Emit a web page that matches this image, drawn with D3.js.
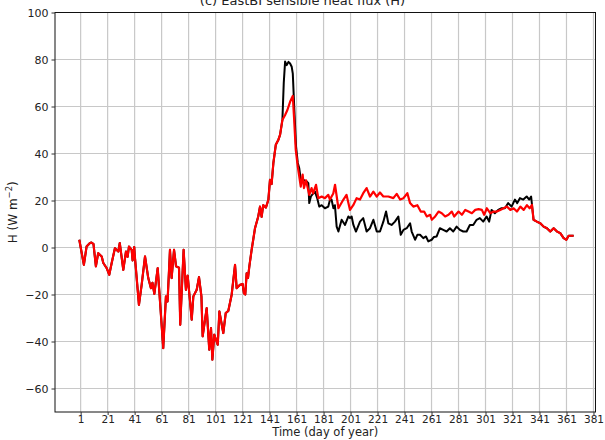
<!DOCTYPE html>
<html>
<head>
<meta charset="utf-8">
<script src="https://cdn.jsdelivr.net/npm/d3@7"></script>
<style>
  body { margin: 0; background: #fff; }
  text { font-family: "DejaVu Sans", sans-serif; fill: #222; }
</style>
</head>
<body>
<div id="chart"></div>
<script>
// shared part (both runs identical until ~day 150, black hidden under red)
const earlyDays = [0, 3.4, 5.4, 7.9, 9, 10.5, 12.3, 14, 16.6, 17.8, 20.3, 22.2, 24, 26.4, 28.9, 30, 32.6, 34.6, 35.8, 36.8, 38.8, 39.5, 40.7, 41,
  44.2, 46.2, 48.7, 51.1, 53.1, 54.2, 55.6, 58.1, 62.2, 64.2, 65.4, 67.2, 68.4, 70.2, 71.7, 73.9, 74.8, 77.3, 79, 80.3, 83.3, 84.5, 87, 88.7, 90.5,
  91.4, 94.4, 96.3, 97.6, 98.6, 100, 102.6, 103.8, 106.7, 108.5, 110.4, 112.9, 115.4, 116.6, 119, 121, 122, 123, 124, 125, 126, 127.7,
  130.2, 132.6, 133.9, 135.1, 136.3, 138.3, 140.1, 141.3, 142.5, 143.8, 145.6, 147.5, 148.8, 150.5];
const earlyVals = [3.3, -7.4, 0.4, 1.9, 2.1, 1.5, -8, -2.4, -3.8, -6.6, -8.8, -11.6, -6.6, -0.3, -1.7, 1.9, -9.5, -1.7, -4, 0.4, -1, -5.5, 0.2, -2.6,
  -24.4, -15.9, -3.8, -13, -17.3, -15, -19.7, -8.8, -42.8, -20.8, -23, -1, -13, -1, -8, -8.6, -32.9, -1, -18, -12, -30.7, -20.8, -18, -12.6, -20.8,
  -37.8, -25.8, -43.5, -34.3, -47.7, -37.1, -41.4, -27.2, -36.4, -27.9, -27, -20.1, -7.4, -17.3, -15.9, -15.5, -19.5, -20, -11, -13, -8, -1,
  8.2, 13.2, 17.4, 13, 18, 17, 20.3, 28.8, 27, 35.9, 43.7, 45.8, 48, 54.3];

// red run after the peak
const redDays = [152.5, 154.2, 156.2, 157.4, 158.2, 159.1, 160.4, 161.9, 163, 164.1, 165.5, 166.5, 168, 170.4, 172.1, 173.3, 175.4, 177.1, 179.6,
  182, 184.5, 185.7, 188.2, 189.5, 192, 195.6, 198, 200.6, 203, 205.5, 208, 210.4, 212.9, 215.4, 217.9, 220.4, 222.8, 225.3, 229, 232.7, 235.2,
  237.7, 240.2, 243.1, 245.1, 247.5, 250.5, 253, 255.5, 257.5, 260, 261.2, 263.7, 266.2, 268.6, 271.1, 273.6, 276, 277.8, 281, 283.5, 286, 288.4,
  290.9, 293.4, 295.9, 298.3, 300, 302, 304.5, 307, 309.4, 311.9, 314.4, 316.9, 319.4, 321.8, 324.3, 326.8, 329.3, 331.7, 333.7, 335.4];
const redVals = [56.4, 58.5, 62, 63.5, 64.5, 55.7, 41.5, 34.4, 30.2, 25.9, 31, 25.3, 28.6, 22.4, 25.3, 23, 26.7, 21, 21.7,
  21, 22.4, 20.4, 23, 26.7, 16.7, 20.3, 22.4, 16, 18, 21, 20.4, 23.1, 25.3, 21.7, 23.8, 21.7, 23.4, 21.7, 21.7, 21, 22.8,
  20.4, 21, 23.1, 18.9, 17.4, 18, 15.3, 15.3, 13.2, 13.9, 11.8, 13.2, 15.3, 14.6, 13.2, 13.9, 15.3, 13.2, 15.3, 13.9, 16, 15.3,
  14.6, 16, 16.3, 16, 13.9, 16.7, 14.6, 15.3, 15.3, 16, 16.7, 17.4, 16, 16.7, 15.3, 17.4, 16, 18, 16.7, 18.1];

// black run after the peak
const blackDays = [151.5, 152.5, 153.7, 155, 156.2, 157.4, 158.2, 159.4, 160.6, 161.9, 163, 164.1, 166, 168.5, 169.7, 170.4, 171.6, 173.3, 174.6,
  176.3, 177.8, 179.6, 182, 184.5, 185.8, 186.9, 188.3, 189.4, 190.7, 192, 194.4, 196.9, 199.4, 200.6, 201.8, 203.1, 205, 208, 210.4, 212.9,
  215.4, 217.9, 220.4, 222.8, 225.3, 227.3, 229, 231.4, 233.9, 236.4, 238.2, 240.2, 242.6, 245.1, 246.3, 248.8, 250.5, 252.5, 254.9, 256.9,
  258.6, 261.1, 262.8, 264.8, 267.2, 269.7, 272.2, 274.6, 277.1, 279.6, 282, 284.5, 287, 289.4, 291.9, 294.4, 296.8, 299.3, 301.8, 303.7,
  305.5, 307.9, 310.4, 312.9, 315.4, 317.8, 320.3, 322.8, 324.5, 326.5, 329, 331.5, 333.4, 334.8];
const blackVals = [70, 79.1, 77.6, 79, 78.3, 76.9, 74, 58, 43, 36, 33.7, 28.8, 28.8, 28.1, 27.4, 18.9, 21.7, 23, 23.8,
  21, 17.4, 18, 16.7, 17.4, 20.4, 20.4, 16.7, 18, 8.9, 6.8, 11.8, 9.6, 13.2, 12.5, 13.2, 9.6, 6.8, 11, 12.5, 6.8,
  8.2, 11.8, 6.8, 6.8, 11, 15.3, 10.3, 9.6, 11, 13.2, 5.4, 7.5, 8.2, 10.3, 6.8, 3.3, 5.4, 5.4, 4, 4.7,
  2.6, 3.3, 4.5, 4.7, 8.2, 7.5, 6.8, 8.2, 6.8, 8.9, 7.5, 6.8, 6.8, 9.6, 9.6, 11.8, 12.5, 11, 13.2, 11,
  16, 14.6, 16, 16.7, 16.7, 18.9, 17.4, 20.4, 18.9, 21, 20.4, 21.7, 20.4, 21.7];

// shared tail (runs merge again after ~day 336)
const tailDays = [336.6, 339.1, 341.6, 344, 346.5, 349, 351.5, 354, 356.4, 358.9, 360.9, 362.6, 366.3];
const tailVals = [11.8, 11, 10.3, 8.9, 8.2, 6.8, 8.2, 6.8, 6.1, 4, 3.3, 5, 5];

const xTicks = d3.range(1, 382, 20);
const yTicks = d3.range(-60, 101, 20);

const toPts = (days, vals) => days.map((d, i) => ({ day: d, val: vals[i] }));
const early = toPts(earlyDays, earlyVals);
const tail = toPts(tailDays, tailVals);
const redData = early.concat(toPts(redDays, redVals), tail);
const blackData = early.concat(toPts(blackDays, blackVals), tail);

const W = 605, H = 440;
const plot = { left: 55, right: 595.5, top: 12.5, bottom: 412 };

const svg = d3.select('#chart').append('svg')
  .attr('width', W).attr('height', H);

const xScale = d3.scaleLinear().domain([-18, 382.5]).range([plot.left, plot.right]);
const yScale = d3.scaleLinear().domain([-70, 100]).range([plot.bottom, plot.top]);

// grid
const grid = svg.append('g').attr('id', 'grid');
grid.selectAll('line.gx').data(xTicks).enter().append('line')
  .attr('x1', d => xScale(d)).attr('x2', d => xScale(d))
  .attr('y1', plot.top).attr('y2', plot.bottom)
  .attr('stroke', '#c8c8c8').attr('stroke-width', 1.2);
grid.selectAll('line.gy').data(yTicks).enter().append('line')
  .attr('y1', d => yScale(d)).attr('y2', d => yScale(d))
  .attr('x1', plot.left).attr('x2', plot.right)
  .attr('stroke', '#c8c8c8').attr('stroke-width', 1.2);

// lines
const line = d3.line().x(d => xScale(d.day)).y(d => yScale(d.val));
svg.append('path').datum(blackData)
  .attr('fill', 'none').attr('stroke', '#000').attr('stroke-width', 2)
  .attr('stroke-linejoin', 'round').attr('d', line);
svg.append('path').datum(redData)
  .attr('fill', 'none').attr('stroke', '#ff0000').attr('stroke-width', 2.2)
  .attr('stroke-linejoin', 'round').attr('d', line);

// frame
svg.append('rect')
  .attr('x', plot.left).attr('y', plot.top)
  .attr('width', plot.right - plot.left).attr('height', plot.bottom - plot.top)
  .attr('fill', 'none').attr('stroke', '#111').attr('stroke-width', 1);

// axes
const xAxis = d3.axisBottom(xScale).tickValues(xTicks).tickSize(3).tickPadding(0.5);
const yAxis = d3.axisLeft(yScale).tickValues(yTicks).tickSize(3.5).tickPadding(3)
  .tickFormat(d => d < 0 ? '\u2212' + Math.abs(d) : d);

const gx = svg.append('g').attr('transform', `translate(0, ${plot.bottom})`).call(xAxis);
const gy = svg.append('g').attr('transform', `translate(${plot.left}, 0)`).call(yAxis);
[gx, gy].forEach(g => {
  g.select('.domain').remove();
  g.selectAll('.tick line').attr('stroke', '#333');
  g.selectAll('.tick text').style('font-size', '11px').attr('fill', '#222');
});
gx.selectAll('.tick text').style('font-size', '10.5px');

// labels
svg.append('text')
  .attr('x', 302.5).attr('y', 5)
  .attr('text-anchor', 'middle').style('font-size', '13px')
  .text('(c) EastBI sensible heat flux (H)');

svg.append('text')
  .attr('x', (plot.left + plot.right) / 2).attr('y', 435.5)
  .attr('text-anchor', 'middle').style('font-size', '11.5px')
  .text('Time (day of year)');

const yl = svg.append('text')
  .attr('transform', `translate(17, ${(plot.top + plot.bottom) / 2}) rotate(-90)`)
  .attr('text-anchor', 'middle').style('font-size', '12px');
yl.append('tspan').text('H (W m');
yl.append('tspan').attr('dy', -5).style('font-size', '8.5px').text('\u22122');
yl.append('tspan').attr('dy', 5).text(')');
</script>
</body>
</html>
